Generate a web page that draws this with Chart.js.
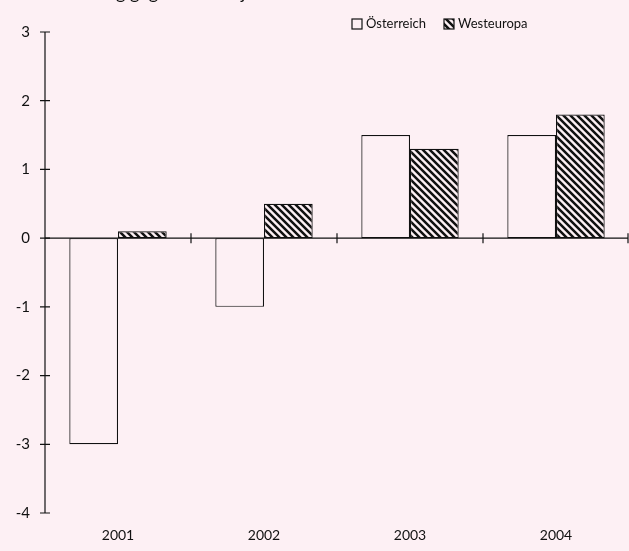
<!DOCTYPE html>
<html>
<head>
<meta charset="utf-8">
<script src="https://cdn.jsdelivr.net/npm/chart.js@4"></script>
<style>
  html, body { margin: 0; padding: 0; background: #fdf0f4; }
  #wrap { width: 629px; height: 551px; position: relative; }
</style>
</head>
<body>
<div id="wrap"><canvas id="chart" width="629" height="551"></canvas></div>
<script>
// Data
const years = ['2001', '2002', '2003', '2004'];
const oesterreich = [-3, -1, 1.5, 1.5];
const westeuropa = [0.1, 0.5, 1.3, 1.8];
const seriesNames = ['Österreich', 'Westeuropa'];
const yTicks = [-4, -3, -2, -1, 0, 1, 2, 3];
const subtitle = 'Veränderung gegen das Vorjahr in %';

const BG = '#fdf0f4';
const INK = '#111111';
const FONT = 'Lato, "DejaVu Sans", sans-serif';

// Backslash hatch fill for the second series
function makeHatch() {
  const s = 7;
  const c = document.createElement('canvas');
  c.width = s; c.height = s;
  const g = c.getContext('2d');
  g.fillStyle = BG;
  g.fillRect(0, 0, s, s);
  g.strokeStyle = INK;
  g.lineWidth = 2.5;
  g.beginPath();
  g.moveTo(-1, -1); g.lineTo(s + 1, s + 1);
  g.moveTo(-1, s - 1); g.lineTo(1, s + 1);
  g.moveTo(s - 1, -1); g.lineTo(s + 1, 1);
  g.stroke();
  return g.createPattern(c, 'repeat');
}
const hatch = makeHatch();

// Axes with ticks crossing the lines, subtitle and legend
const decorations = {
  id: 'decorations',
  afterDatasetsDraw(chart) {
    const ctx = chart.ctx;
    const y = chart.scales.y;
    const area = chart.chartArea;
    ctx.save();
    ctx.strokeStyle = INK;
    ctx.lineWidth = 1.2;

    // vertical axis
    const ax = area.left;
    ctx.beginPath();
    ctx.moveTo(ax, y.getPixelForValue(yTicks[yTicks.length - 1]));
    ctx.lineTo(ax, y.getPixelForValue(yTicks[0]));
    yTicks.forEach(v => {
      const py = y.getPixelForValue(v);
      ctx.moveTo(ax - 5, py);
      ctx.lineTo(ax + 5, py);
    });
    ctx.stroke();

    // zero line with category boundary ticks
    const zy = y.getPixelForValue(0);
    ctx.beginPath();
    ctx.moveTo(ax, zy);
    ctx.lineTo(area.right - 1, zy);
    const step = (area.right - area.left) / years.length;
    for (let i = 1; i <= years.length; i++) {
      const px = Math.min(area.left + step * i, area.right - 1);
      ctx.moveTo(px, zy - 5);
      ctx.lineTo(px, zy + 5);
    }
    ctx.stroke();

    // subtitle, mostly above the visible top edge
    ctx.fillStyle = INK;
    ctx.font = '18px ' + FONT;
    ctx.textBaseline = 'alphabetic';
    ctx.textAlign = 'left';
    ctx.fillText(subtitle, 24, -1);

    // legend
    ctx.font = '13px ' + FONT;
    ctx.textBaseline = 'middle';
    const ly = 24;
    const items = [
      { x: 352, fill: BG, label: chart.data.datasets[0].label },
      { x: 444, fill: hatch, label: chart.data.datasets[1].label }
    ];
    items.forEach(it => {
      ctx.fillStyle = it.fill;
      ctx.fillRect(it.x, ly - 5, 10, 10);
      ctx.lineWidth = 1.2;
      ctx.strokeRect(it.x, ly - 5, 10, 10);
      ctx.fillStyle = INK;
      ctx.fillText(it.label, it.x + 14, ly);
    });
    ctx.restore();
  }
};

new Chart(document.getElementById('chart'), {
  type: 'bar',
  data: {
    labels: years,
    datasets: [
      {
        label: seriesNames[0],
        data: oesterreich,
        backgroundColor: BG,
        borderColor: INK,
        borderWidth: 1.2,
        borderSkipped: false
      },
      {
        label: seriesNames[1],
        data: westeuropa,
        backgroundColor: hatch,
        borderColor: INK,
        borderWidth: 1.2,
        borderSkipped: false
      }
    ]
  },
  options: {
    responsive: false,
    animation: false,
    devicePixelRatio: 1,
    layout: { padding: { top: 32, right: 0, left: 0, bottom: 0 } },
    datasets: { bar: { categoryPercentage: 0.667, barPercentage: 1 } },
    plugins: {
      legend: { display: false },
      tooltip: { enabled: false }
    },
    scales: {
      x: {
        grid: { display: false, drawTicks: false },
        border: { display: false },
        ticks: { color: INK, font: { family: FONT, size: 14 }, padding: 14 },
        afterFit(scale) { scale.height = 38; }
      },
      y: {
        min: -4,
        max: 3,
        grid: { display: false, drawTicks: false },
        border: { display: false },
        ticks: {
          stepSize: 1,
          color: INK,
          font: { family: FONT, size: 15 },
          padding: 15
        },
        afterFit(scale) { scale.width = 45; }
      }
    }
  },
  plugins: [decorations]
});
</script>
</body>
</html>
